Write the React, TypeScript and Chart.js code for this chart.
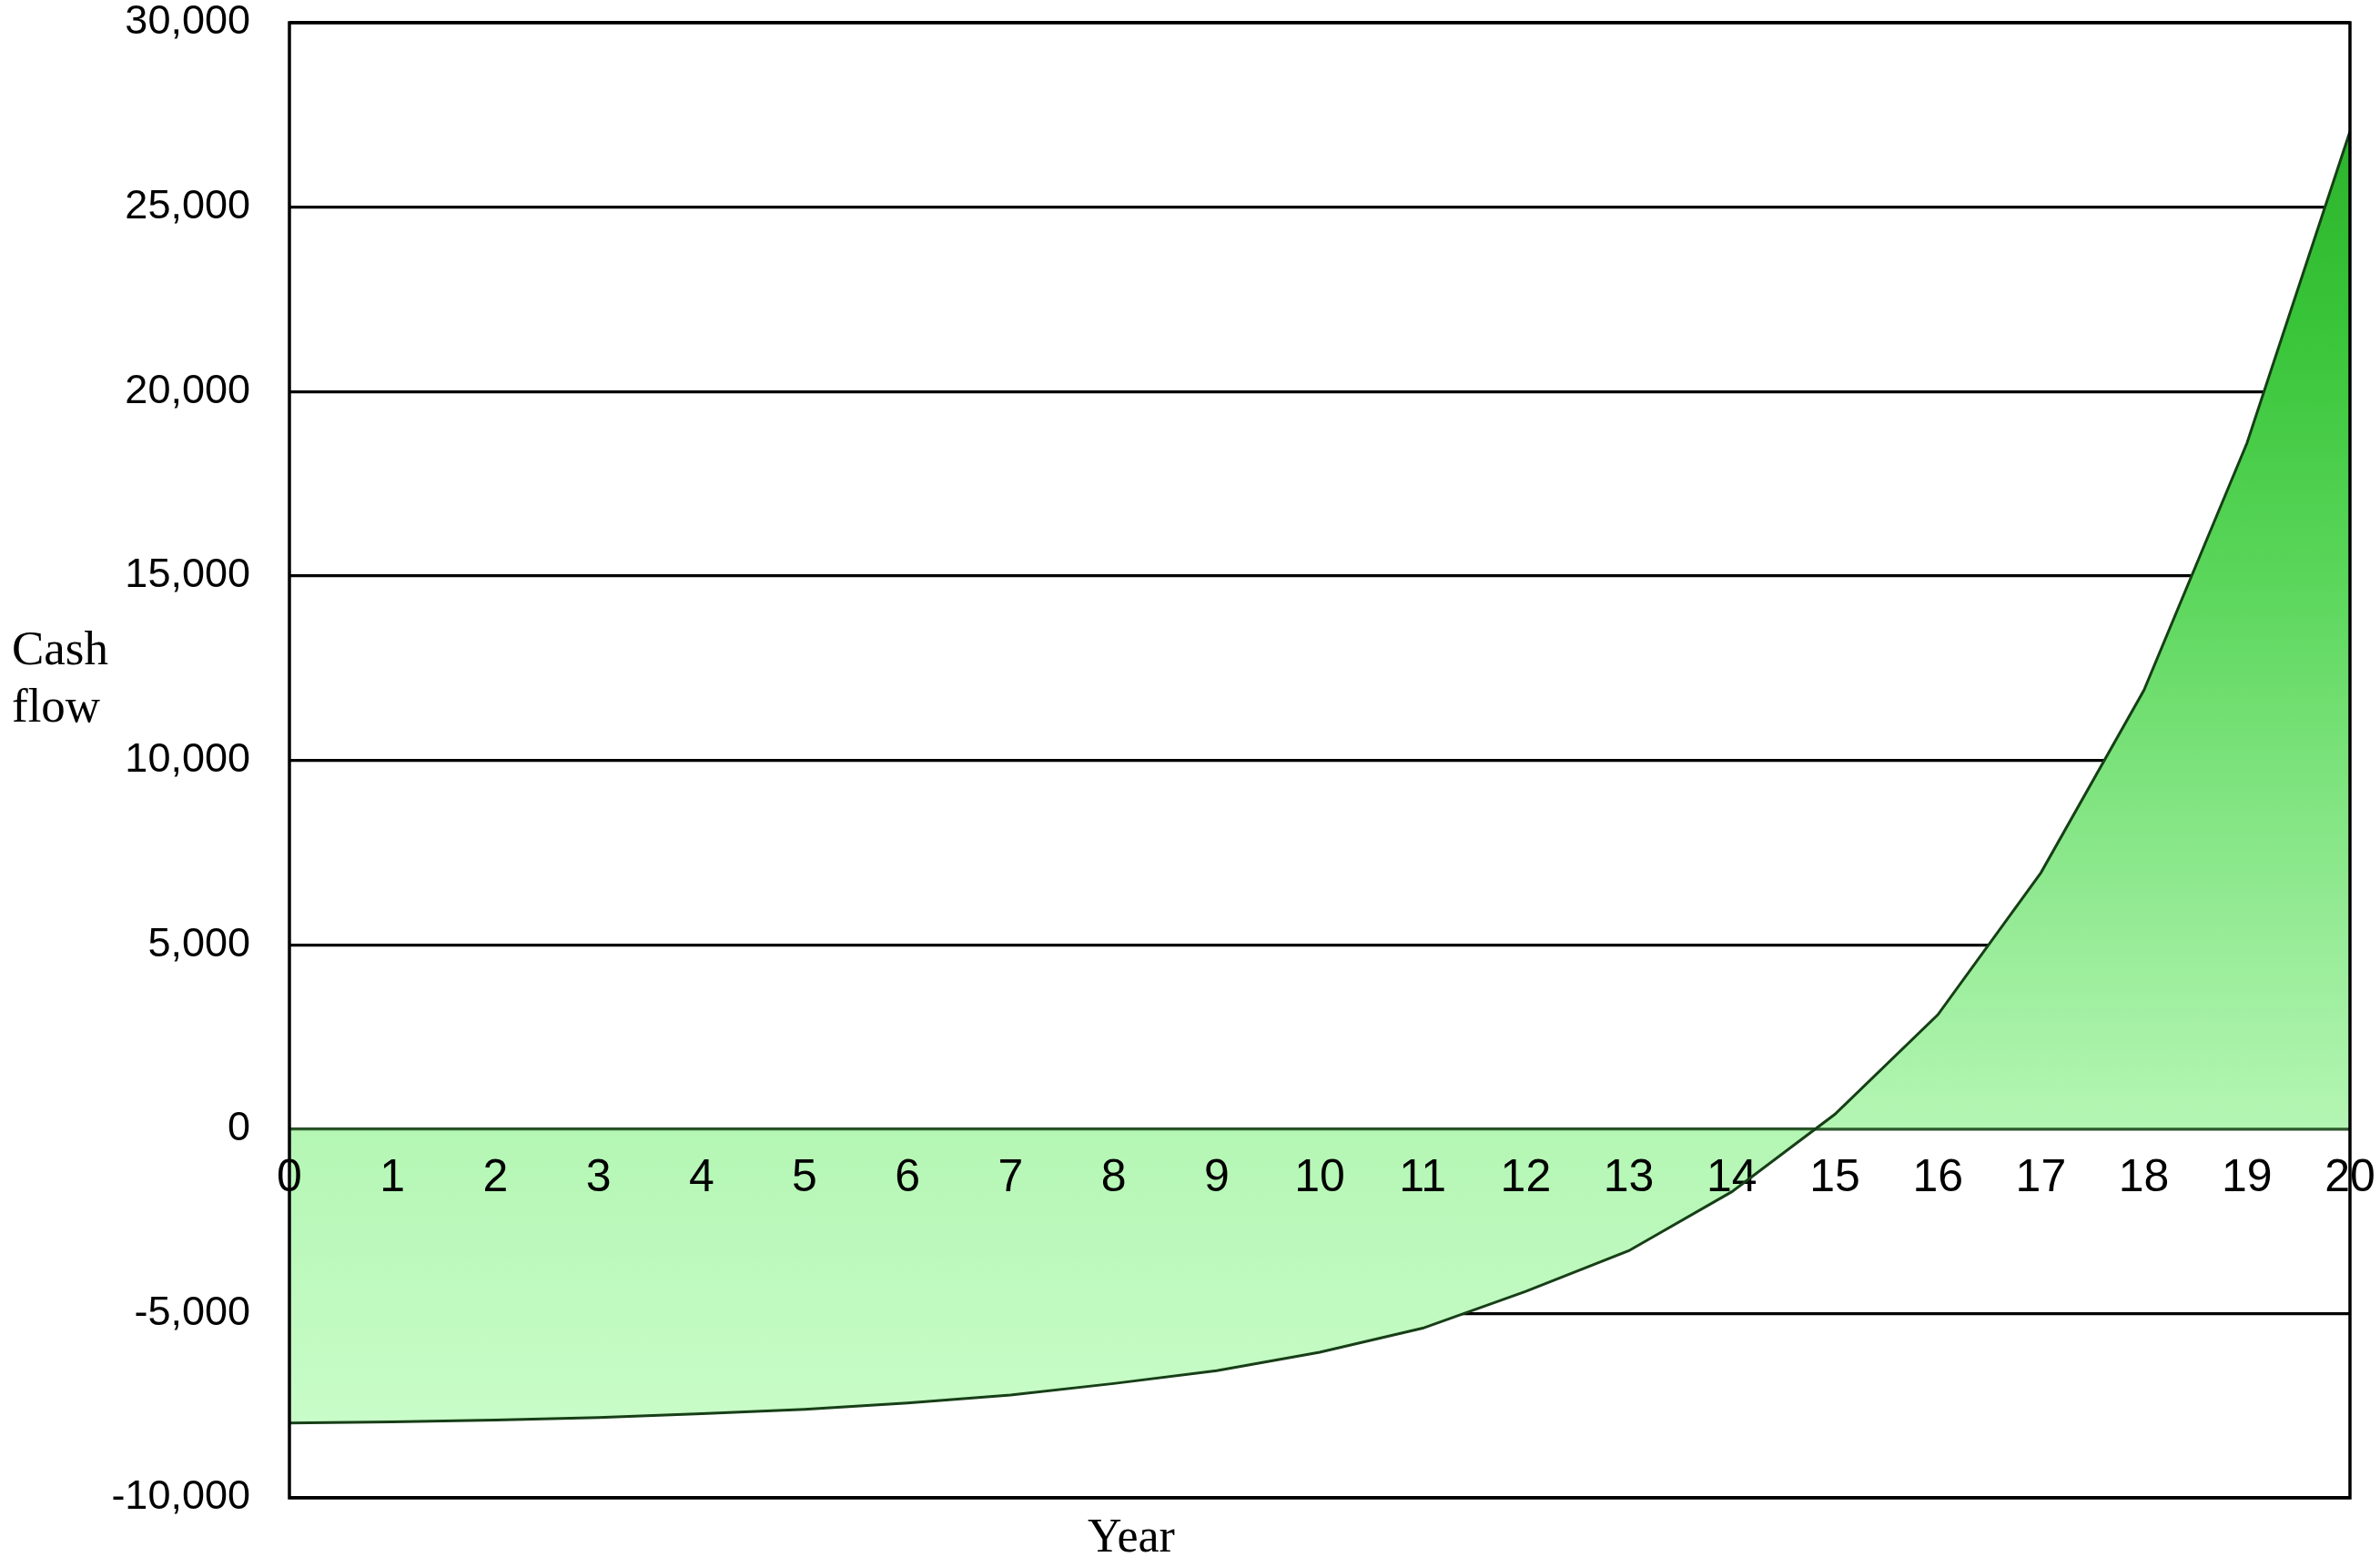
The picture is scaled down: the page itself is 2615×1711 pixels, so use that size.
import React, { useEffect, useRef } from "react";
import { Chart, registerables } from "chart.js";

Chart.register(...registerables);

// ---- data ----
const years: string[] = [
  "0", "1", "2", "3", "4", "5", "6", "7", "8", "9", "10",
  "11", "12", "13", "14", "15", "16", "17", "18", "19", "20",
];
const cashFlow: number[] = [
  -7970, -7940, -7890, -7820, -7720, -7600, -7430, -7210, -6900, -6550, -6050,
  -5400, -4400, -3300, -1700, 400, 3100, 6950, 11900, 18600, 27050,
];
const yTickValues: number[] = [-10000, -5000, 0, 5000, 10000, 15000, 20000, 25000, 30000];
const yAxisTitleLines: string[] = ["Cash", "flow"];
const xAxisTitle = "Year";

// ---- style ----
const W = 2615;
const H = 1711;
const gradientStopValues: number[] = [27000, 22000, 15000, 10000, 5000, 0, -8000];
const gradientStopColors: string[] = ["#2db42d", "#38c438", "#5ad65a", "#7ae27a", "#99ec99", "#b4f6b4", "#c8fcc8"];
const X_LABEL_FONT = "50px 'Liberation Sans Narrow', 'Liberation Sans', Arial, sans-serif";

// Zero line + year labels are drawn right after the filled area (dataset index 1),
// so the curve (dataset index 0) is drawn on top of them.
const zeroAndLabelsPlugin = {
  id: "zeroAndLabels",
  afterDatasetDraw(chart: any, args: any) {
    if (args.index !== 1) return;
    const { ctx, chartArea: a, scales } = chart;
    const y0 = scales.y.getPixelForValue(0);
    ctx.save();
    ctx.strokeStyle = "#2b5a2b";
    ctx.lineWidth = 3;
    ctx.beginPath();
    ctx.moveTo(a.left, y0);
    ctx.lineTo(a.right, y0);
    ctx.stroke();
    ctx.fillStyle = "#000";
    ctx.font = X_LABEL_FONT;
    ctx.textAlign = "center";
    ctx.textBaseline = "middle";
    const labels: string[] = chart.data.labels;
    labels.forEach((lab, i) => {
      ctx.fillText(lab, scales.x.getPixelForValue(i), y0 + 54);
    });
    ctx.restore();
  },
};

const framePlugin = {
  id: "frame",
  afterDatasetsDraw(chart: any) {
    const { ctx, chartArea: a } = chart;
    ctx.save();
    ctx.strokeStyle = "#000";
    ctx.lineWidth = 3.5;
    ctx.strokeRect(a.left, a.top, a.right - a.left, a.bottom - a.top);
    ctx.restore();
  },
};

const titlesPlugin = {
  id: "axisTitles",
  afterDraw(chart: any) {
    const { ctx } = chart;
    ctx.save();
    ctx.fillStyle = "#000";
    ctx.textBaseline = "alphabetic";
    ctx.font = "53px 'Liberation Serif', 'Times New Roman', serif";
    ctx.textAlign = "left";
    ctx.fillText(yAxisTitleLines[0], 13, 730);
    ctx.fillText(yAxisTitleLines[1], 13, 793);
    ctx.font = "52px 'Liberation Serif', 'Times New Roman', serif";
    ctx.textAlign = "center";
    ctx.fillText(xAxisTitle, 1243, 1705);
    ctx.restore();
  },
};

export default function App() {
  const canvasRef = useRef<HTMLCanvasElement | null>(null);

  useEffect(() => {
    const canvas = canvasRef.current;
    if (!canvas) return;
    const chart = new Chart(canvas, {
      type: "line",
      data: {
        labels: years,
        datasets: [
          {
            // curve (drawn last, on top)
            data: cashFlow,
            borderColor: "#173f17",
            borderWidth: 3,
            pointRadius: 0,
            tension: 0,
            fill: false,
          },
          {
            // filled area to zero
            data: cashFlow,
            borderWidth: 0,
            borderColor: "rgba(0,0,0,0)",
            pointRadius: 0,
            tension: 0,
            fill: "origin",
            backgroundColor: (context: any) => {
              const c = context.chart;
              if (!c.chartArea) return gradientStopColors[5];
              const ys = c.scales.y;
              const top = ys.getPixelForValue(gradientStopValues[0]);
              const bottom = ys.getPixelForValue(gradientStopValues[gradientStopValues.length - 1]);
              const g = c.ctx.createLinearGradient(0, top, 0, bottom);
              gradientStopValues.forEach((v, i) => {
                const f = (ys.getPixelForValue(v) - top) / (bottom - top);
                g.addColorStop(Math.min(1, Math.max(0, f)), gradientStopColors[i]);
              });
              return g;
            },
          },
        ],
      },
      options: {
        responsive: false,
        devicePixelRatio: 1,
        animation: false,
        layout: { padding: { left: 0, top: 25, right: 33, bottom: 65 } },
        plugins: {
          legend: { display: false },
          tooltip: { enabled: false },
        },
        scales: {
          x: {
            type: "category",
            display: false,
            offset: false,
          },
          y: {
            type: "linear",
            min: yTickValues[0],
            max: yTickValues[yTickValues.length - 1],
            afterBuildTicks: (scale: any) => {
              scale.ticks = yTickValues.map((v) => ({ value: v }));
            },
            afterFit: (scale: any) => {
              scale.width = 318;
              scale.paddingTop = 20;
              scale.paddingBottom = 20;
            },
            grid: { color: "#000", lineWidth: 3.2, drawTicks: false },
            border: { display: false },
            ticks: {
              padding: 43,
              color: "#000",
              font: { family: "'Liberation Sans', Arial, sans-serif", size: 45, lineHeight: 1 },
              callback: (v: any) => Number(v).toLocaleString("en-US"),
            },
          },
        },
      },
      plugins: [zeroAndLabelsPlugin, framePlugin, titlesPlugin],
    });
    return () => chart.destroy();
  }, []);

  return (
    <div style={{ position: "fixed", left: 0, top: 0, width: W, height: H, background: "#fff" }}>
      <canvas ref={canvasRef} width={W} height={H} style={{ width: W, height: H, display: "block" }} />
    </div>
  );
}
